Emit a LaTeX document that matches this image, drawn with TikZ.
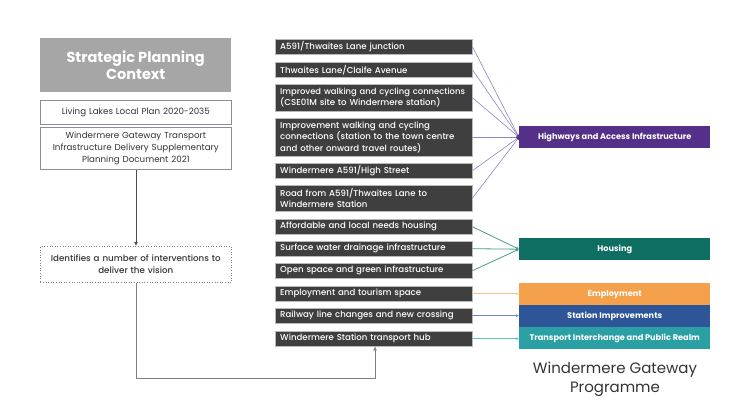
\documentclass[tikz,border=0pt]{standalone}
\usepackage{fontspec}
\setmainfont{Poppins}
\newfontfamily\medfont{Poppins Medium}
\usetikzlibrary{arrows.meta}
\definecolor{titlegray}{HTML}{A6A6A6}
\definecolor{darkbox}{HTML}{3F3F3F}
\definecolor{hwpurple}{HTML}{553089}
\definecolor{housteal}{HTML}{0F6E62}
\definecolor{emporange}{HTML}{F5A04A}
\definecolor{stnblue}{HTML}{2D5597}
\definecolor{trteal}{HTML}{2AA0A5}
\definecolor{lnpurple}{HTML}{8D84C4}
\definecolor{lnteal}{HTML}{4A9A8A}
\definecolor{lnorange}{HTML}{F8C390}
\definecolor{lnblue}{HTML}{6E88C6}
\definecolor{lnteal2}{HTML}{5CC3C6}
\definecolor{txtgray}{HTML}{333333}
\definecolor{bordgray}{HTML}{8A8E9A}
\tikzset{
  dbox/.style={fill=darkbox, draw=gray!55, line width=0.4pt, text=white, anchor=north west,
    inner xsep=5pt, inner ysep=0pt, text width=187pt, align=left,
    font=\medfont\fontsize{8.6}{11.5}\selectfont},
  lbox/.style={fill=white, draw=bordgray, line width=0.6pt, text=txtgray, anchor=north west,
    inner sep=0pt, minimum width=191pt, text width=189pt, align=center,
    font=\fontsize{8.7}{12}\selectfont},
  rbox/.style={text=white, anchor=north west, inner sep=0pt, minimum width=191pt,
    minimum height=22pt, font=\bfseries\fontsize{8.2}{10}\selectfont},
  hwline/.style={lnpurple, line width=0.6pt},
  hsline/.style={lnteal, line width=0.8pt, -{Latex[length=3pt,width=3pt]}},
  flow/.style={gray, line width=1pt},
}
\begin{document}
\begin{tikzpicture}[x=1pt,y=-1pt]
\useasboundingbox (0,0) rectangle (747,420);
% left column
\node[fill=titlegray, text=white, anchor=north west, inner sep=0pt, minimum width=191pt, minimum height=54pt,
  align=center, font=\bfseries\fontsize{14.5}{17.5}\selectfont] (spc) at (40,38) {Strategic Planning\\Context};
\node[lbox, minimum height=24pt] (llp) at (40,100) {Living Lakes Local Plan 2020-2035};
\node[lbox, minimum height=42pt] (wgt) at (40,127) {Windermere Gateway Transport\\Infrastructure Delivery Supplementary\\Planning Document 2021};
\node[lbox, draw=gray, dotted, minimum height=36pt, font=\medfont\fontsize{8.7}{12}\selectfont] (idn) at (40,246)
  {Identifies a number of interventions to\\deliver the vision};
% dark boxes
\node[dbox, minimum height=15pt] (d1) at (275,39) {A591/Thwaites Lane junction};
\node[dbox, minimum height=15pt] (d2) at (275,62) {Thwaites Lane/Claife Avenue};
\node[dbox, minimum height=27pt] (d3) at (275,84) {\hbox{\fontsize{8.4}{11.5}\selectfont Improved walking and cycling connections}\\(CSE01M site to Windermere station)};
\node[dbox, minimum height=38pt] (d4) at (275,118) {Improvement walking and cycling\\connections (station to the town centre\\and other onward travel routes)};
\node[dbox, minimum height=15pt] (d5) at (275,163) {Windermere A591/High Street};
\node[dbox, minimum height=26pt] (d6) at (275,185) {Road from A591/Thwaites Lane to\\Windermere Station};
\node[dbox, minimum height=15pt] (d7) at (275,219) {Affordable and local needs housing};
\node[dbox, minimum height=15pt] (d8) at (275,241) {Surface water drainage infrastructure};
\node[dbox, minimum height=15pt] (d9) at (275,263) {Open space and green infrastructure};
\node[dbox, minimum height=15pt] (d10) at (275,286) {Employment and tourism space};
\node[dbox, minimum height=15pt] (d11) at (275,308) {Railway line changes and new crossing};
\node[dbox, minimum height=15pt] (d12) at (275,331) {Windermere Station transport hub};
% right boxes
\node[rbox, fill=hwpurple] (hw) at (519,126) {Highways and Access Infrastructure};
\node[rbox, fill=housteal] (hs) at (519,238) {Housing};
\node[rbox, fill=emporange] (em) at (519,283) {Employment};
\node[rbox, fill=stnblue] (st) at (519,305) {Station Improvements};
\node[rbox, fill=trteal] (tr) at (519,327) {Transport Interchange and Public Realm};
\node[text=txtgray, align=center, font=\fontsize{15}{19}\selectfont] (wgp) at (615,379) {Windermere Gateway\\Programme};
% connectors
\foreach \n in {d1,d2,d3,d4,d5,d6} \draw[hwline] (\n.east) -- (hw.west);
\fill[hwpurple] (hw.west) circle (2.8pt);
\foreach \n in {d7,d8,d9} \draw[hsline] (\n.east) -- (hs.west);
\draw[lnorange, line width=0.8pt, -{Latex[length=3pt,width=3pt]}] (d10.east) -- (d10.east -| em.west);
\draw[lnblue, line width=0.8pt, -{Latex[length=3pt,width=3pt]}] (d11.east) -- (d11.east -| st.west);
\draw[lnteal2, line width=0.8pt, -{Latex[length=3pt,width=3pt]}] (d12.east) -- (d12.east -| tr.west);
\draw[black!70, line width=0.8pt, -{Latex[length=4pt,width=4pt]}] (wgt.south -| 136,0) -- (idn.north -| 136,0);
\coordinate (c1) at (136,378);
\coordinate (c2) at (375,378);
\draw[flow, -{Latex[length=4pt,width=4pt]}] (idn.south -| c1) -- (c1) -- (c2) -- (d12.south -| c2);
\end{tikzpicture}
\end{document}
